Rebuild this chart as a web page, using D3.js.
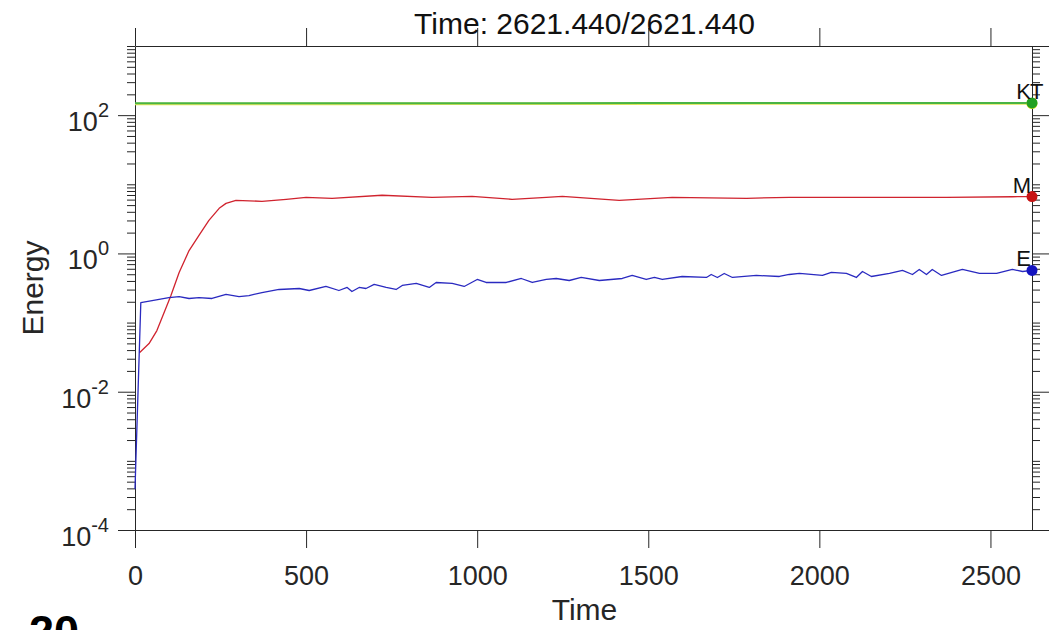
<!DOCTYPE html>
<html>
<head>
<meta charset="utf-8">
<script src="https://cdn.jsdelivr.net/npm/d3@7"></script>
<style>
  html, body { margin: 0; padding: 0; background: #fff; }
  svg { display: block; font-family: "Liberation Sans", Arial, Helvetica, sans-serif; }
</style>
</head>
<body>
<svg id="chart" width="1050" height="630"></svg>
<script>
// ---- data ----
const tEnd = 2621.44;

// kinetic (K) and total (T) energy, nearly identical
const ktTime  = [0, 300, 600, 900, 1200, 1500, 1800, 2100, 2400, 2621.44];
const kValues = [148, 148, 148.5, 149, 149, 149.5, 150, 150, 150, 150];
const tValues = [145, 145, 145.5, 146, 146, 146.5, 147, 147, 147, 147];

// magnetic energy (M)
const mTime   = [13, 41, 64, 91, 105, 129, 158, 187, 216, 246, 266, 295, 371, 442, 500, 576, 722, 868, 985, 1102, 1202, 1249, 1415, 1570, 1787, 1912, 2175, 2371, 2564, 2621.44];
const mValues = [0.0367, 0.0497, 0.0766, 0.165, 0.246, 0.53, 1.10, 1.82, 3.0, 4.49, 5.3, 5.87, 5.67, 6.07, 6.48, 6.27, 6.94, 6.48, 6.7, 6.07, 6.48, 6.7, 5.87, 6.48, 6.27, 6.48, 6.48, 6.48, 6.6, 6.65];

// energy (E)
const eTime   = [0, 17, 50, 99, 129, 158, 187, 225, 266, 304, 333, 371, 421, 480, 509, 558, 596, 620, 634, 655,
                 675, 699, 734, 763, 781, 822, 860, 880, 927, 962, 1000, 1026, 1085, 1129, 1161, 1202, 1231, 1269, 1304, 1357,
                 1424, 1453, 1494, 1518, 1541, 1599, 1670, 1684, 1702, 1722, 1746, 1816, 1883, 1912, 1942, 2009, 2035, 2079, 2108, 2126,
                 2152, 2205, 2243, 2272, 2292, 2313, 2330, 2357, 2418, 2468, 2518, 2564, 2594, 2621.44];
const eValues = [0.00039, 0.195, 0.208, 0.230, 0.238, 0.223, 0.230, 0.223, 0.255, 0.238, 0.246, 0.272, 0.301, 0.311, 0.291, 0.333, 0.291, 0.322, 0.281, 0.322,
                 0.311, 0.356, 0.322, 0.301, 0.344, 0.368, 0.322, 0.380, 0.368, 0.333, 0.420, 0.380, 0.380, 0.434, 0.380, 0.420, 0.434, 0.406, 0.449, 0.406,
                 0.434, 0.480, 0.420, 0.449, 0.420, 0.464, 0.449, 0.496, 0.449, 0.513, 0.449, 0.480, 0.464, 0.496, 0.513, 0.480, 0.531, 0.513, 0.449, 0.548,
                 0.464, 0.513, 0.567, 0.496, 0.586, 0.496, 0.586, 0.480, 0.586, 0.513, 0.513, 0.586, 0.548, 0.567];

// axis ticks
const xTicks = [0, 500, 1000, 1500, 2000, 2500];
const yMajor = [1e-4, 1e-2, 1e0, 1e2];
const yMinor = [];
for (let e = -4; e < 3; e++) {
  for (let k = 1; k <= 9; k++) {
    const v = k * Math.pow(10, e);
    if (!(k === 1 && e % 2 === 0)) yMinor.push(v);
  }
}
yMinor.push(1e3);

const titleText = "Time: 2621.440/2621.440";

// ---- layout ----
const L = 135, R = 1032, T = 46, B = 530;
const ink = "#262626";

const svg = d3.select("#chart");
const x = d3.scaleLinear().domain([0, tEnd]).range([L, R]);
const y = d3.scaleLog().domain([1e-4, 1e3]).range([B, T]);

// ---- axes ----
const gBottom = svg.append("g").attr("transform", `translate(0,${B})`).attr("color", ink)
  .call(d3.axisBottom(x).tickValues(xTicks).tickSize(18).tickSizeOuter(0).tickFormat(d3.format("d")));
gBottom.selectAll(".tick text")
  .attr("y", 55).attr("dy", null)
  .attr("font-size", 27).attr("fill", ink);

svg.append("g").attr("transform", `translate(0,${T})`).attr("color", ink)
  .call(d3.axisTop(x).tickValues(xTicks).tickSize(18).tickSizeOuter(0).tickFormat(""));

svg.append("g").attr("transform", `translate(${L},0)`).attr("color", ink)
  .call(d3.axisLeft(y).tickValues(yMajor).tickSize(17).tickSizeOuter(0).tickFormat(""));
svg.append("g").attr("transform", `translate(${L},0)`).attr("color", ink)
  .call(d3.axisLeft(y).tickValues(yMinor).tickSize(8).tickSizeOuter(0).tickFormat(""))
  .call(g => g.select(".domain").remove());

svg.append("g").attr("transform", `translate(${R},0)`).attr("color", ink)
  .call(d3.axisRight(y).tickValues(yMajor.concat([1e3])).tickSize(17).tickSizeOuter(0).tickFormat(""));
svg.append("g").attr("transform", `translate(${R},0)`).attr("color", ink)
  .call(d3.axisRight(y).tickValues(yMinor.filter(v => v !== 1e3)).tickSize(8).tickSizeOuter(0).tickFormat(""))
  .call(g => g.select(".domain").remove());

// power-of-ten labels with superscripts
const yLab = svg.append("g").attr("fill", ink).attr("text-anchor", "end");
yMajor.forEach(v => {
  const t = yLab.append("text").attr("x", L - 26).attr("y", y(v) + 16);
  t.append("tspan").attr("font-size", 27).text("10");
  t.append("tspan").attr("font-size", 20).attr("dy", -14).text(String(Math.round(Math.log10(v))));
});

// ---- series ----
const line = d3.line().x(d => x(d.t)).y(d => y(d.v));
const zip = (ts, vs) => ts.map((t, i) => ({ t, v: vs[i] }));

const series = [
  { name: "T", data: zip(ktTime, tValues), color: "#e2e65a", width: 2.6, dot: "#d9df1c" },
  { name: "K", data: zip(ktTime, kValues), color: "#49b443", width: 2.0, dot: "#22a022" },
  { name: "M", data: zip(mTime, mValues),  color: "#d0232e", width: 1.3, dot: "#c81414" },
  { name: "E", data: zip(eTime, eValues),  color: "#2a2ac0", width: 1.3, dot: "#1414c0" }
];

const gLines = svg.append("g");
series.forEach(s => {
  gLines.append("path").datum(s.data)
    .attr("fill", "none").attr("stroke", s.color)
    .attr("stroke-width", s.width).attr("stroke-linejoin", "round")
    .attr("d", line);
});

// end-point markers and names
const gEnd = svg.append("g");
series.forEach(s => {
  const last = s.data[s.data.length - 1];
  gEnd.append("circle").attr("cx", x(last.t)).attr("cy", y(last.v)).attr("r", 5.5).attr("fill", s.dot);
});
const kData = series.find(q => q.name === "K").data;
series.forEach(s => {
  const last = s.data[s.data.length - 1];
  const ref = s.name === "T" ? kData[kData.length - 1] : last;
  gEnd.append("text")
    .attr("x", s.name === "T" ? x(ref.t) - 2 : x(ref.t) - 1)
    .attr("y", y(ref.v) - 4)
    .attr("text-anchor", s.name === "T" ? "start" : "end")
    .attr("font-size", 22).attr("fill", "#111")
    .text(s.name);
});

// ---- titles ----
svg.append("text").attr("x", 584.5).attr("y", 34).attr("text-anchor", "middle")
  .attr("font-size", 30).attr("fill", "#111").text(titleText);
svg.append("text").attr("x", 584.5).attr("y", 620).attr("text-anchor", "middle")
  .attr("font-size", 30).attr("fill", ink).text("Time");
svg.append("text").attr("transform", "translate(43,288) rotate(-90)").attr("text-anchor", "middle")
  .attr("font-size", 30).attr("fill", ink).text("Energy");

svg.append("text").attr("x", 29).attr("y", 647).attr("font-size", 45).attr("font-weight", "bold")
  .attr("fill", "#000").text("20");
</script>
</body>
</html>
